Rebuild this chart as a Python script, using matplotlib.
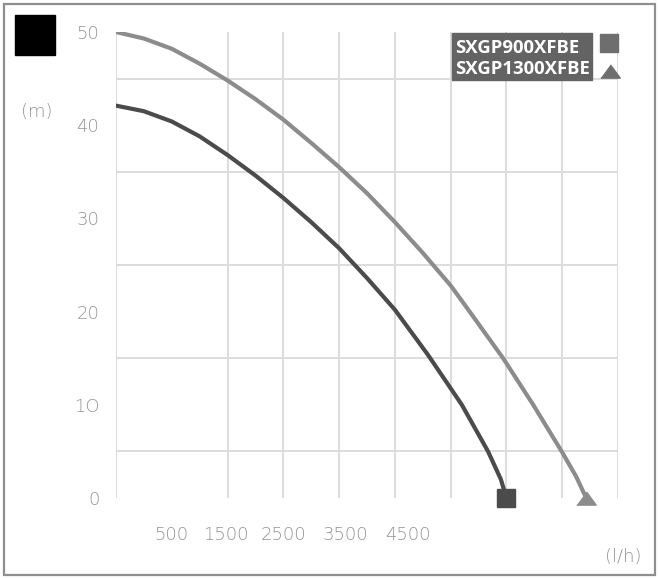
import numpy as np
import matplotlib
matplotlib.use("Agg")
import matplotlib.pyplot as plt
from matplotlib.patches import Rectangle

# curve data, x in grid columns (one column per grid cell), head in m
x_900 = [0, 0.5, 1, 1.5, 2, 2.5, 3, 3.5, 4, 4.5, 5, 5.6, 6.2, 6.67, 6.9, 7.0]
h_900 = [42.1, 41.5, 40.4, 38.8, 36.8, 34.6, 32.2, 29.6, 26.8, 23.6, 20.2, 15.3, 10.0, 5.0, 2.0, 0]
x_1300 = [0, 0.5, 1, 1.5, 2, 2.5, 3, 3.5, 4, 4.5, 5, 5.5, 6, 6.34, 6.94, 7.48, 7.99, 8.25, 8.43]
h_1300 = [50.0, 49.3, 48.2, 46.6, 44.8, 42.8, 40.6, 38.1, 35.5, 32.7, 29.6, 26.3, 22.8, 20.0, 15.0, 10.0, 5.0, 2.3, 0]

y_ticks = [0, 10, 20, 30, 40, 50]
y_labels = ["0", "1O", "20", "30", "40", "50"]
x_labels = ["500", "1500", "2500", "3500", "4500"]
x_label_pos = [1.0, 1.97, 3.01, 4.12, 5.23]
models = ["SXGP900XFBE", "SXGP1300XFBE"]

W, H = 659, 579
fig = plt.figure(figsize=(W / 100, H / 100), dpi=100)
fig.patch.set_facecolor("white")

ax = fig.add_axes([116 / W, 1 - 498 / H, (618 - 116) / W, (498 - 32) / H])
ax.set_xlim(0, 9)
ax.set_ylim(0, 50)
for s in ax.spines.values():
    s.set_visible(False)

# grid
ax.set_xticks(np.arange(0, 10), minor=True)
ax.set_yticks(np.arange(0, 51, 5), minor=True)
ax.grid(which="minor", color="#dcdcdc", lw=1.4)
ax.tick_params(which="both", length=0)
ax.set_axisbelow(True)

tick_font = dict(family="DejaVu Sans", weight="light", size=13, color="#939393")
ax.set_yticks(y_ticks)
ax.set_yticklabels(y_labels, **tick_font)
ax.tick_params(axis="y", pad=12)
ax.set_xticks(x_label_pos)
ax.set_xticklabels(x_labels, **tick_font)
ax.tick_params(axis="x", pad=20)

dark = "#4b4b4b"
light = "#8c8c8c"
ax.plot(x_900, h_900, color=dark, lw=3.0, solid_capstyle="round")
ax.plot(x_1300, h_1300, color=light, lw=3.0, solid_capstyle="round")
ax.plot(x_900[-1], h_900[-1], marker="s", ms=13, color=dark, clip_on=False, zorder=5)
tri = [(-1, -0.68), (1, -0.68), (0, 0.68)]
ax.plot(x_1300[-1], h_1300[-1], marker=tri, ms=14, color=light, clip_on=False, zorder=5)

# decorations in pixel coords
deco = fig.add_axes([0, 0, 1, 1], zorder=-1)
deco.set_xlim(0, W)
deco.set_ylim(H, 0)
deco.axis("off")
deco.add_patch(Rectangle((4, 4), W - 8, H - 8, fill=False, ec="#8f8f8f", lw=1.6))
deco.add_patch(Rectangle((15, 15), 40, 40, color="black"))

over = fig.add_axes([0, 0, 1, 1], zorder=10)
over.set_xlim(0, W)
over.set_ylim(H, 0)
over.axis("off")
over.patch.set_alpha(0)
over.add_patch(Rectangle((452, 33), 140, 47, color="#636363"))
over.text(455, 48, models[0], family="Open Sans", weight="bold", size=13.3,
          color="white", va="center", ha="left")
over.text(455, 69, models[1], family="Open Sans", weight="bold", size=13.3,
          color="white", va="center", ha="left")
over.plot(609, 43, marker="s", ms=13, color="#6e6e6e")
over.plot(610, 71, marker=tri, ms=14, color="#6e6e6e")

over.text(37, 112, "(m)", ha="center", va="center", **tick_font)
over.text(641, 557, "(l/h)", ha="right", va="center", **tick_font)

fig.savefig("out.png", dpi=100)
